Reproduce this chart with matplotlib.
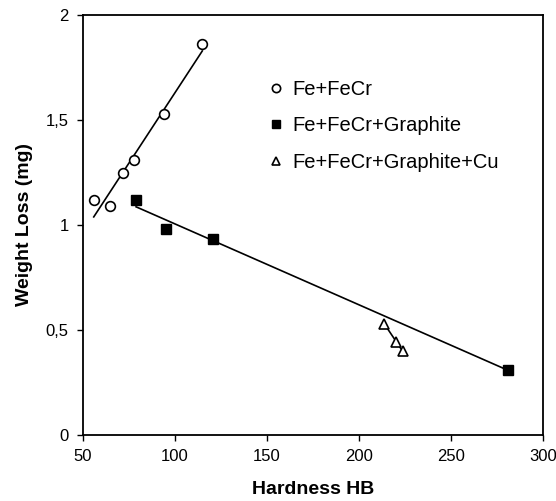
import numpy as np
import matplotlib
matplotlib.use("Agg")
import matplotlib.pyplot as plt

plt.rcParams['font.family'] = ['Liberation Sans', 'DejaVu Sans']

# Data
fe_x = [56, 65, 72, 78, 94, 115]
fe_y = [1.12, 1.09, 1.25, 1.31, 1.53, 1.86]

gr_x = [79, 95, 121, 281]
gr_y = [1.12, 0.98, 0.935, 0.31]

cu_x = [214, 220, 224]
cu_y = [0.53, 0.445, 0.40]

labels = ["Fe+FeCr", "Fe+FeCr+Graphite", "Fe+FeCr+Graphite+Cu"]

x_ticks = [50, 100, 150, 200, 250, 300]
y_ticks = [0, 0.5, 1, 1.5, 2]
y_tick_labels = ["0", "0,5", "1", "1,5", "2"]

fig = plt.figure(figsize=(5.56, 5.01), dpi=100)
ax = fig.add_axes([82.7/556, 66/501, (542.7-82.7)/556, (435-15)/501])

def fit_line(xs, ys):
    xs = np.asarray(xs, float)
    ys = np.asarray(ys, float)
    p = np.polyfit(xs, ys, 1)
    xx = np.array([xs.min(), xs.max()])
    return xx, np.polyval(p, xx)

for xs, ys in [(fe_x, fe_y), (gr_x, gr_y), (cu_x, cu_y)]:
    lx, ly = fit_line(xs, ys)
    ax.plot(lx, ly, color='black', lw=1.2, zorder=2)

ax.plot(fe_x, fe_y, ls='none', marker='o', ms=7, mfc='white', mec='black', mew=1.2, label=labels[0], zorder=3)
ax.plot(gr_x, gr_y, ls='none', marker='s', ms=7, mfc='black', mec='black', mew=1.0, label=labels[1], zorder=3)
ax.plot(cu_x, cu_y, ls='none', marker='^', ms=7, mfc='white', mec='black', mew=1.2, label=labels[2], zorder=3)

ax.set_xlim(50, 300)
ax.set_ylim(0, 2)
ax.set_xticks(x_ticks)
ax.set_yticks(y_ticks)
ax.set_yticklabels(y_tick_labels)
ax.tick_params(direction='out', length=4, width=1, labelsize=12, colors='black', pad=6)

for s in ax.spines.values():
    s.set_linewidth(1.3)
    s.set_color('black')

ax.set_xlabel("Hardness HB", fontsize=14, fontweight='bold', labelpad=12)
ax.set_ylabel("Weight Loss (mg)", fontsize=14, fontweight='bold', labelpad=9)

leg = ax.legend(loc='upper left', bbox_to_anchor=(270/556, 1 - 80/501), bbox_transform=fig.transFigure,
                frameon=False, fontsize=14.5, markerscale=0.85, handlelength=0.6,
                handletextpad=0.5, labelspacing=0.86, borderpad=0, borderaxespad=0)

fig.savefig("out.png", dpi=100)
